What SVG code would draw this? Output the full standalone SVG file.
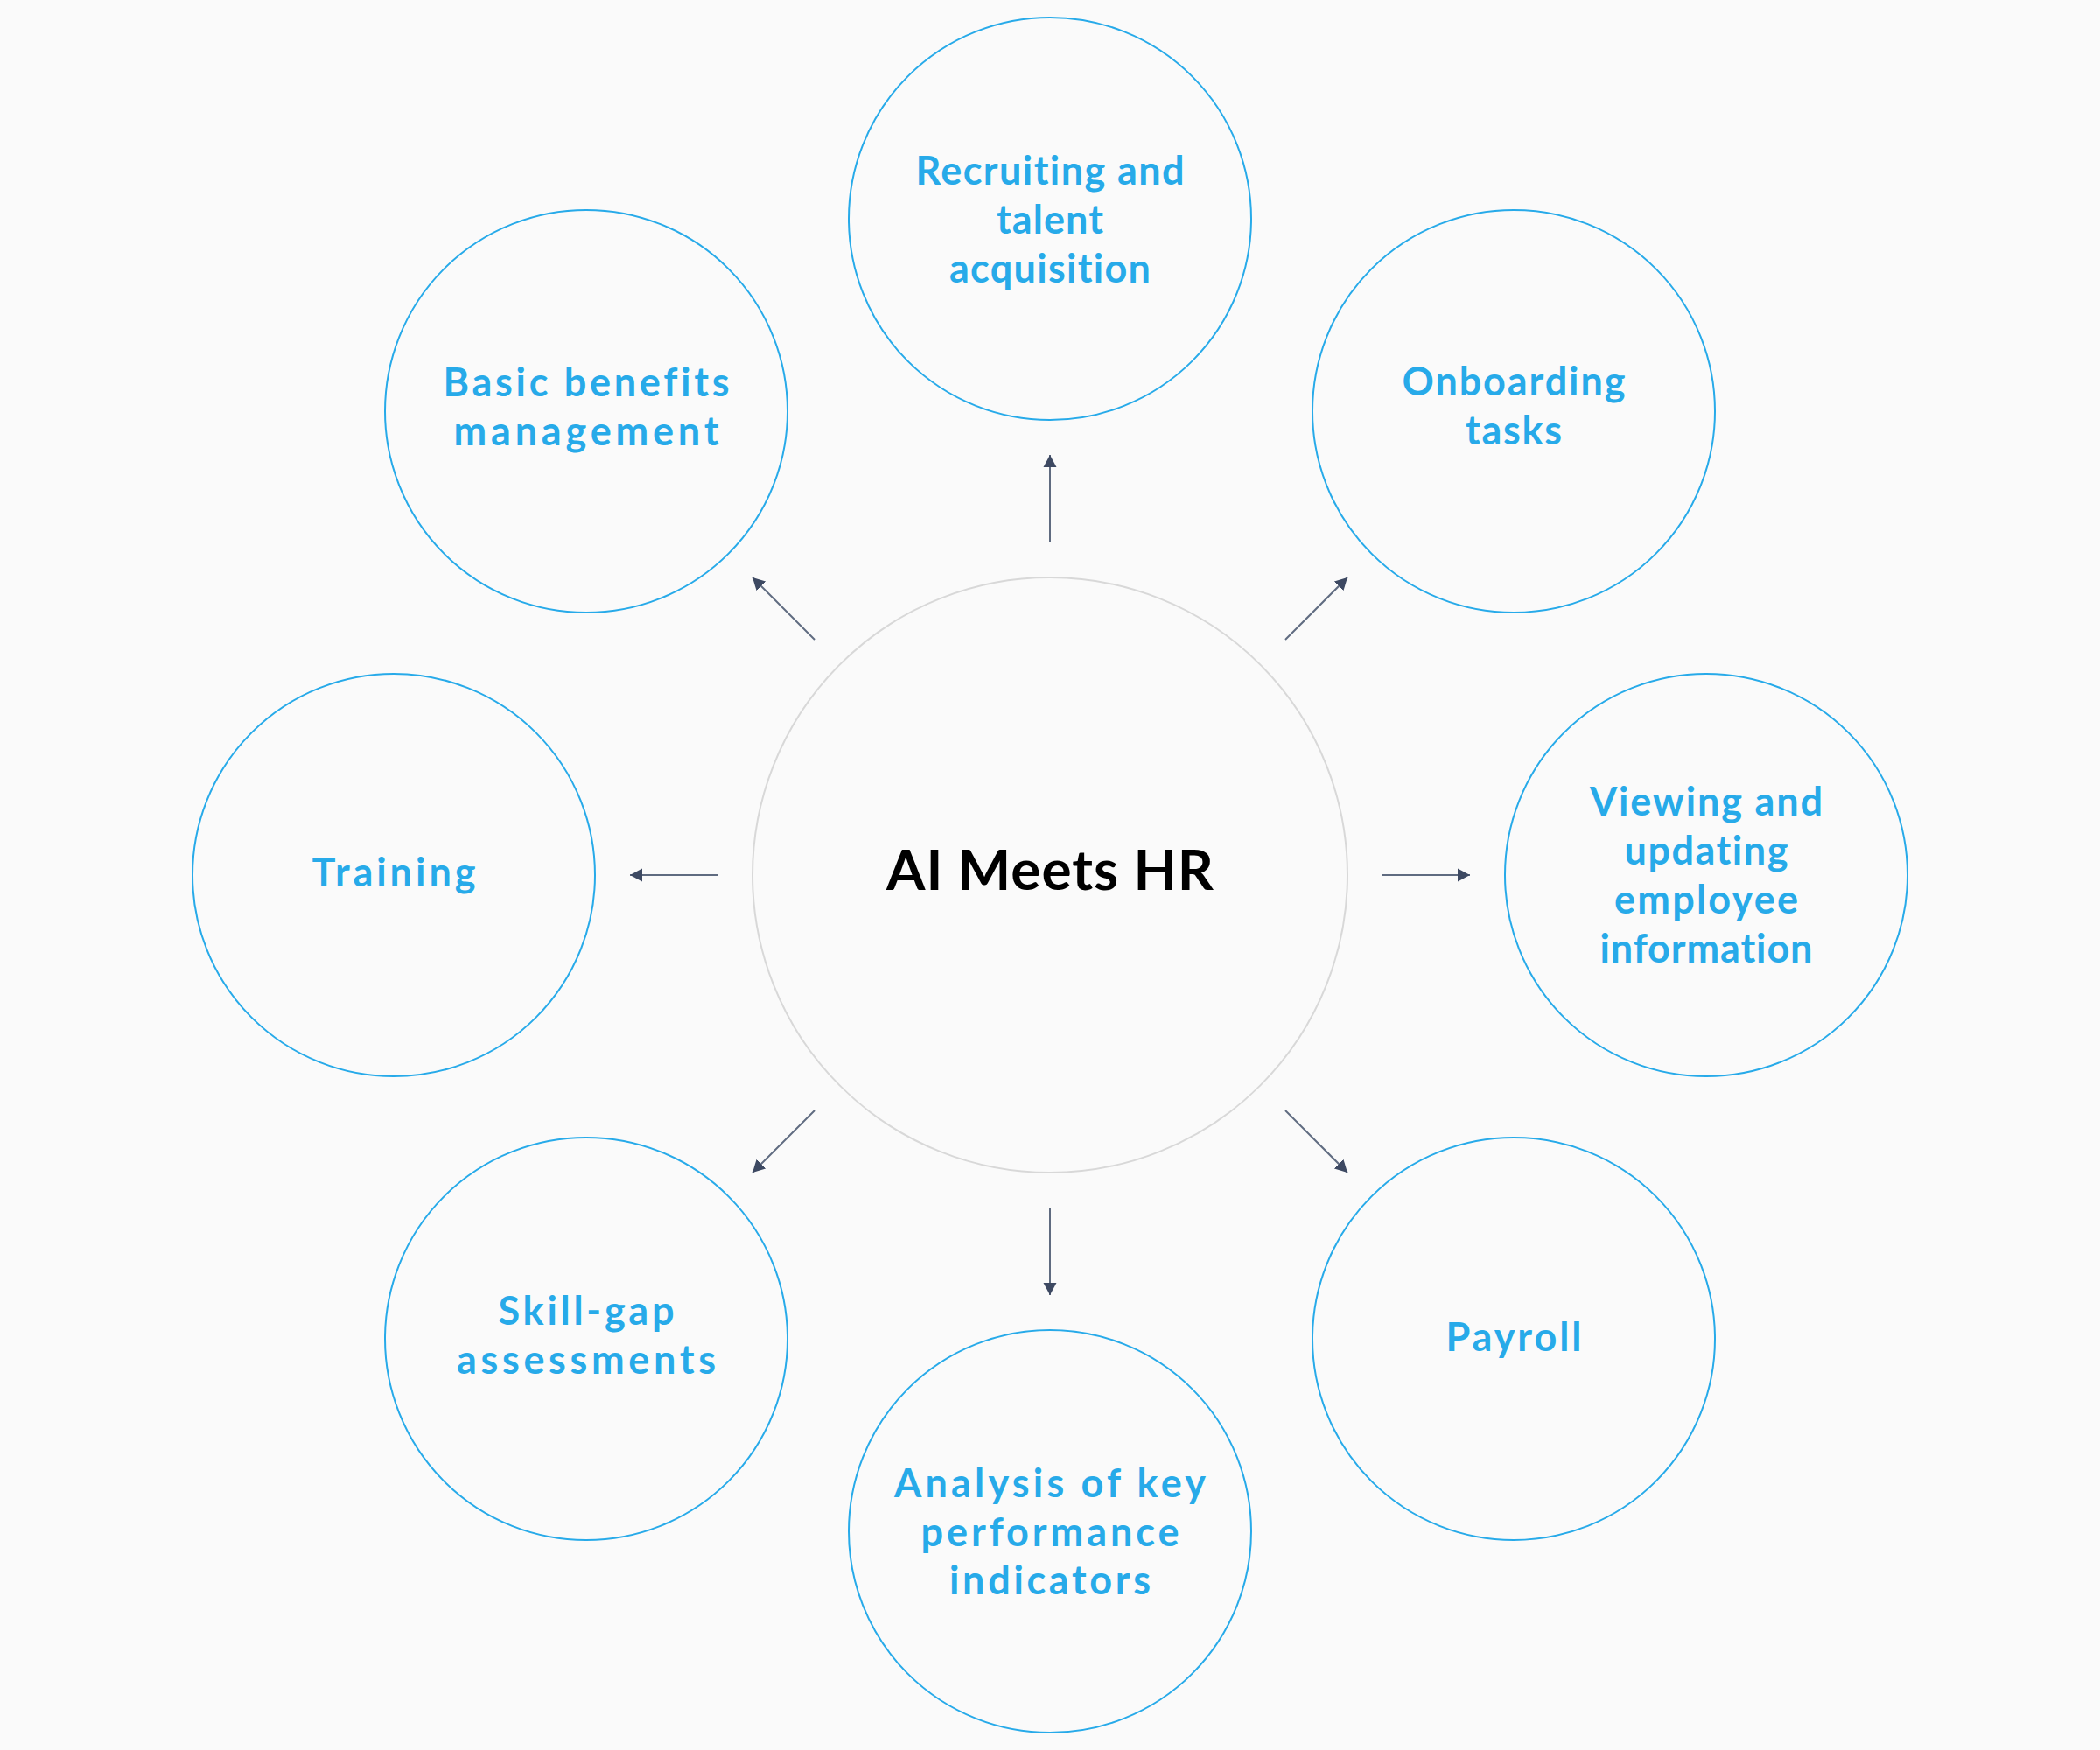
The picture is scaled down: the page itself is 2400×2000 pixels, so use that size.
<svg xmlns="http://www.w3.org/2000/svg" width="2400" height="2000" viewBox="0 0 2400 2000">
<defs>
<marker id="ah" markerUnits="userSpaceOnUse" markerWidth="16" markerHeight="16" refX="14" refY="8" orient="auto">
<path d="M0,0.5 L14,8 L0,15.5 Z" fill="#3d4962"/>
</marker>
<style>
.outer{fill:none;stroke:#27aae9;stroke-width:2}
.center{fill:none;stroke:#d8d8d8;stroke-width:2}
.lbl{font-family:Lato,"Open Sans","Liberation Sans",sans-serif;font-weight:700;font-size:45px;fill:#27aae9;text-anchor:middle;font-variant-ligatures:none;font-feature-settings:"liga" 0,"clig" 0}
.title{font-family:Lato,"Open Sans","Liberation Sans",sans-serif;font-weight:700;font-size:64px;fill:#000;text-anchor:middle;font-variant-ligatures:none}
.con{stroke:#5f6b80;stroke-width:2;fill:none;marker-end:url(#ah)}
</style>
</defs>
<rect width="2400" height="2000" fill="#fafafa"/>
<g id="connectors">
<line class="con" x1="1200" y1="620" x2="1200" y2="520"/>
<line class="con" x1="1200" y1="1380" x2="1200" y2="1480"/>
<line class="con" x1="820" y1="1000" x2="720" y2="1000"/>
<line class="con" x1="1580" y1="1000" x2="1680" y2="1000"/>
<line class="con" x1="931" y1="731" x2="860" y2="660"/>
<line class="con" x1="1469" y1="731" x2="1540" y2="660"/>
<line class="con" x1="931" y1="1269" x2="860" y2="1340"/>
<line class="con" x1="1469" y1="1269" x2="1540" y2="1340"/>
</g>
<g id="center">
<circle class="center" cx="1200" cy="1000" r="340"/>
<text class="title" x="1200" y="1017" textLength="374" lengthAdjust="spacing">AI Meets HR</text>
</g>
<g id="recruiting">
<circle class="outer" cx="1200" cy="250" r="230"/>
<text class="lbl" x="1200" y="211" textLength="307" lengthAdjust="spacing">Recruiting and</text>
<text class="lbl" x="1200" y="267" textLength="122" lengthAdjust="spacing">talent</text>
<text class="lbl" x="1200" y="323" textLength="230" lengthAdjust="spacing">acquisition</text>
</g>
<g id="onboarding">
<circle class="outer" cx="1730" cy="470" r="230"/>
<text class="lbl" x="1730" y="452" textLength="255" lengthAdjust="spacing">Onboarding</text>
<text class="lbl" x="1730" y="508" textLength="110" lengthAdjust="spacing">tasks</text>
</g>
<g id="viewing">
<circle class="outer" cx="1950" cy="1000" r="230"/>
<text class="lbl" x="1950" y="932" textLength="266" lengthAdjust="spacing">Viewing and</text>
<text class="lbl" x="1950" y="988" textLength="187" lengthAdjust="spacing">updating</text>
<text class="lbl" x="1950" y="1044" textLength="210" lengthAdjust="spacing">employee</text>
<text class="lbl" x="1950" y="1100" textLength="243" lengthAdjust="spacing">information</text>
</g>
<g id="payroll">
<circle class="outer" cx="1730" cy="1530" r="230"/>
<text class="lbl" x="1730" y="1544" textLength="155" lengthAdjust="spacing">Payroll</text>
</g>
<g id="analysis">
<circle class="outer" cx="1200" cy="1750" r="230"/>
<text class="lbl" x="1200" y="1711" textLength="356" lengthAdjust="spacing">Analysis of key</text>
<text class="lbl" x="1200" y="1767" textLength="295" lengthAdjust="spacing">performance</text>
<text class="lbl" x="1200" y="1822" textLength="230" lengthAdjust="spacing">indicators</text>
</g>
<g id="skillgap">
<circle class="outer" cx="670" cy="1530" r="230"/>
<text class="lbl" x="670" y="1514" textLength="201" lengthAdjust="spacing">Skill-gap</text>
<text class="lbl" x="670" y="1570" textLength="296" lengthAdjust="spacing">assessments</text>
</g>
<g id="training">
<circle class="outer" cx="450" cy="1000" r="230"/>
<text class="lbl" x="450" y="1013" textLength="187" lengthAdjust="spacing">Training</text>
</g>
<g id="benefits">
<circle class="outer" cx="670" cy="470" r="230"/>
<text class="lbl" x="670" y="453" textLength="327" lengthAdjust="spacing">Basic benefits</text>
<text class="lbl" x="670" y="509" textLength="303" lengthAdjust="spacing">management</text>
</g>
</svg>
